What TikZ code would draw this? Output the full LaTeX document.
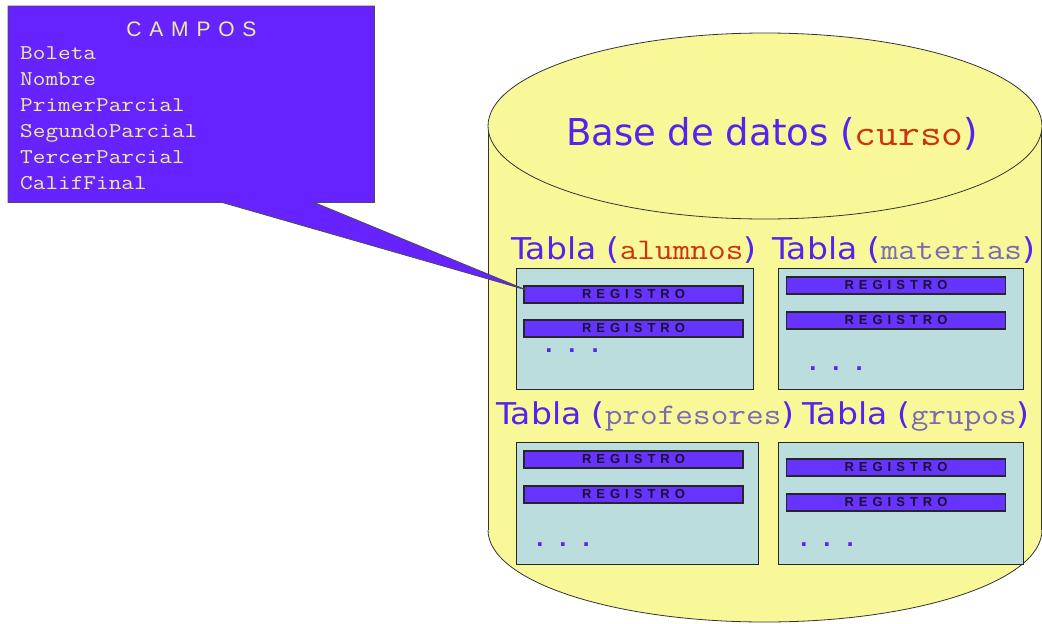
\documentclass[tikz,border=0pt]{standalone}
\usepackage{fontspec}
\usepackage{graphicx}
\setmainfont{DejaVu Sans}
\newfontfamily\asans{Liberation Sans}[BoldFont=Liberation Sans Bold]
\usetikzlibrary{calc}
\definecolor{cylfill}{HTML}{F8F899}
\definecolor{callfill}{HTML}{6622FF}
\definecolor{regfill}{HTML}{6633FF}
\definecolor{tabfill}{HTML}{BCDDDD}
\definecolor{txtblue}{HTML}{5522EE}
\definecolor{txtred}{HTML}{CC3311}
\definecolor{txtgray}{HTML}{7A6AB0}
\definecolor{camptxt}{HTML}{EEEE9A}
\definecolor{regtxt}{HTML}{1A1030}
\newcommand\cm[1]{\scalebox{1.143}[1]{\ttfamily #1}}
\newcommand\cmf[1]{\scalebox{1.17}[1]{\ttfamily #1}}
\newcommand\sw[1]{\scalebox{1.1}[1]{#1}}
\newcommand\gapR{\hspace{5pt}}
\newcommand\regword{R\gapR E\gapR G\gapR I\gapR S\gapR T\gapR R\gapR O}
\newcommand\gapC{\hspace{7.8pt}}
\newcommand\threedots{.\hspace{15.5pt}.\hspace{15.5pt}.}
\begin{document}
\begin{tikzpicture}[x=1pt,y=-1pt,
  tabbox/.style={draw=black!85, line width=1.3pt, fill=tabfill, anchor=north west, inner sep=0pt},
  regbar/.style={draw=black!85, line width=1.1pt, fill=regfill, minimum width=219pt, minimum height=17pt, inner sep=0pt, text=regtxt, font=\asans\bfseries\fontsize{13}{13}\selectfont},
  head/.style={inner sep=0pt, anchor=base west, text=txtblue, font=\fontsize{30}{30}\selectfont},
  dotrow/.style={inner sep=0pt, text=txtblue, font=\bfseries\fontsize{20}{20}\selectfont},
  field/.style={inner sep=0pt, anchor=base west, text=camptxt, font=\fontsize{21}{21}\selectfont},
  cyl/.style={fill=cylfill},
  cylline/.style={draw=black!80, line width=0.8pt},
  callshape/.style={fill=callfill, draw=black!70, line width=0.8pt, line join=miter}]
\useasboundingbox (0,0) rectangle (1042,624);
% cylinder
\fill[cyl] (488,126) rectangle (1041,530);
\fill[cyl] (765,530) ellipse [x radius=277, y radius=92];
\begin{scope}
\clip (470,530) rectangle (1050,630);
\draw[cylline] (765,530) ellipse [x radius=277, y radius=92];
\end{scope}
\draw[cylline] (488,126) -- (488,530);
\draw[cylline] (1041,126) -- (1041,530);
\filldraw[cyl, cylline] (765,126) ellipse [x radius=277, y radius=93];
\node[inner sep=0pt, anchor=base, text=txtblue, font=\fontsize{37}{37}\selectfont] (db) at (772,145) {Base de datos (\textcolor{txtred}{\cm{curso}})};
% headings
\node[head] (h1) at (511,259) {\sw{Tabla (}\textcolor{txtred}{\cm{alumnos}}\sw{)}};
\node[head] (h2) at (772,259) {\sw{Tabla (}\textcolor{txtgray}{\cm{materias}}\sw{)}};
\node[head] (h3) at (496,424) {\sw{Tabla (}\textcolor{txtgray}{\cm{profesores}}\sw{)}};
\node[head] (h4) at (802,424) {\sw{Tabla (}\textcolor{txtgray}{\cm{grupos}}\sw{)}};
% table boxes
\node[tabbox, minimum width=237pt, minimum height=121pt] (t1) at (516,268) {};
\node[tabbox, minimum width=245pt, minimum height=121pt] (t2) at (778,268) {};
\node[tabbox, minimum width=242pt, minimum height=122pt] (t3) at (516,442) {};
\node[tabbox, minimum width=245pt, minimum height=122pt] (t4) at (778,442) {};
% registros
\node[regbar] (r1a) at (633.5,294.5) {\regword};
\node[regbar] (r1b) at (633.5,328.5) {\regword};
\node[regbar] (r2a) at (896,285.5) {\regword};
\node[regbar] (r2b) at (896,320.5) {\regword};
\node[regbar] (r3a) at (633.5,459.5) {\regword};
\node[regbar] (r3b) at (633.5,494.5) {\regword};
\node[regbar] (r4a) at (896,467.5) {\regword};
\node[regbar] (r4b) at (896,502.5) {\regword};
% dots
\node[dotrow] (d1) at (572,351) {\threedots};
\node[dotrow] (d2) at (836,369) {\threedots};
\node[dotrow] (d3) at (563,545) {\threedots};
\node[dotrow] (d4) at (827,545) {\threedots};
% callout
\node[anchor=north west, minimum width=366pt, minimum height=196pt, inner sep=0pt] (call) at (8,6) {};
\coordinate (tip) at ($(r1a.west)+(3,-4.5)$);
\filldraw[callshape] (call.north west) -- (call.north east) -- (call.south east)
  -- ($(call.south west)+(306,0)$) -- (tip) -- ($(call.south west)+(214,0)$)
  -- (call.south west) -- cycle;
\node[inner sep=0pt, anchor=base, text=camptxt, font=\asans\fontsize{21}{21}\selectfont] (campos) at (191.5,36) {C\gapC A\gapC M\gapC P\gapC O\gapC S};
\node[field] (f1) at (20,59) {\cmf{Boleta}};
\node[field] (f2) at (20,85) {\cmf{Nombre}};
\node[field] (f3) at (20,111) {\cmf{PrimerParcial}};
\node[field] (f4) at (20,137) {\cmf{SegundoParcial}};
\node[field] (f5) at (20,163) {\cmf{TercerParcial}};
\node[field] (f6) at (20,189) {\cmf{CalifFinal}};
\end{tikzpicture}
\end{document}
